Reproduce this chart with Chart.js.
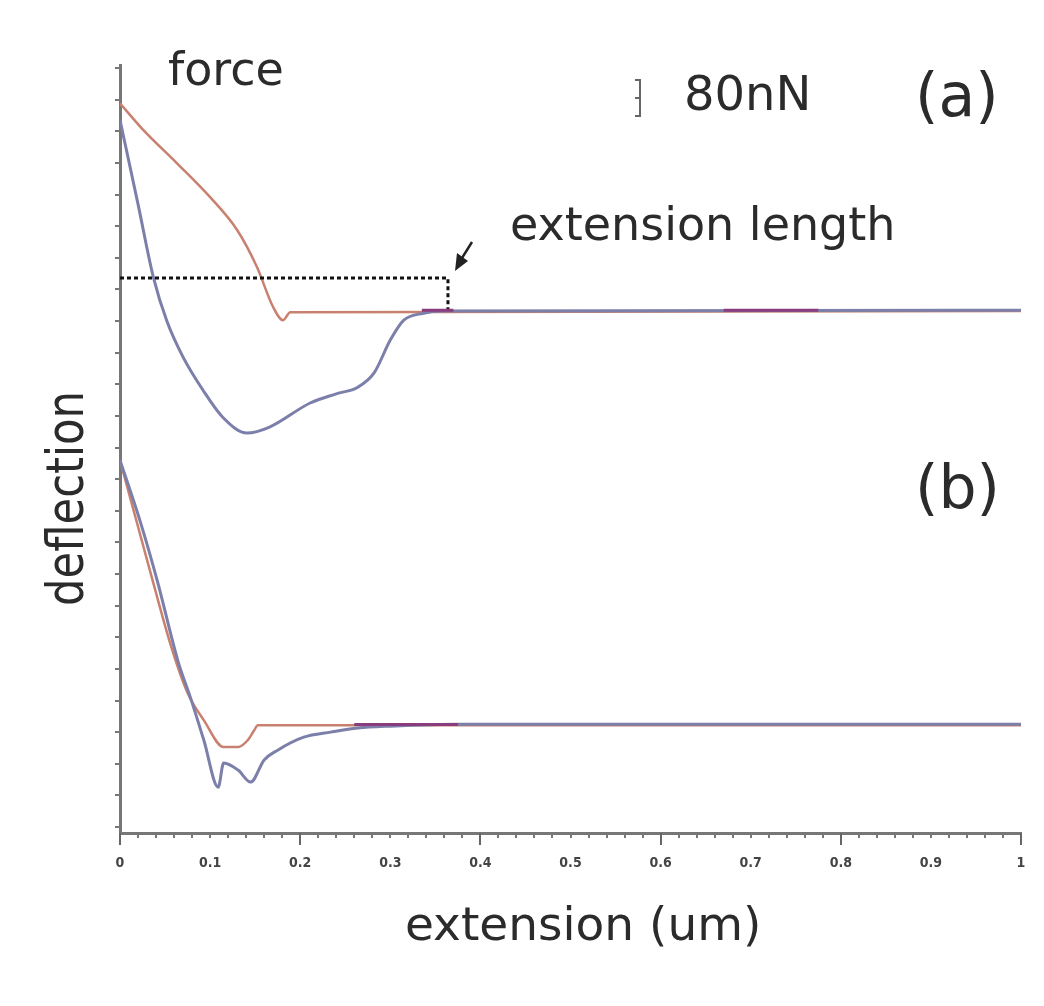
<!DOCTYPE html>
<html>
<head>
<meta charset="utf-8">
<script src="https://cdn.jsdelivr.net/npm/chart.js@4/dist/chart.umd.min.js"></script>
<style>
  html, body { margin: 0; padding: 0; background: #fff; }
  canvas { display: block; }
</style>
</head>
<body>
<canvas id="forceCurve" width="1044" height="1006"></canvas>
<script>
  // x tick labels (um)
  const xTickLabels = ["0", "0.1", "0.2", "0.3", "0.4", "0.5", "0.6", "0.7", "0.8", "0.9", "1"];

  // (a) approach (red) and retract (blue), deflection in tick units
  const aRedX = [0, 0.026, 0.063, 0.1, 0.13, 0.152, 0.17, 0.181, 0.189, 1];
  const aRedY = [22.89, 22.04, 21.0, 19.92, 18.88, 17.71, 16.44, 16.03, 16.28, 16.32];
  const aBlueX = [0, 0.02, 0.037, 0.052, 0.07, 0.092, 0.114, 0.141, 0.166, 0.211, 0.24, 0.264, 0.282, 0.3, 0.315, 0.337, 0.356, 1];
  const aBlueY = [22.36, 19.7, 17.39, 16.0, 14.86, 13.82, 12.96, 12.46, 12.65, 13.41, 13.7, 13.91, 14.36, 15.4, 16.03, 16.25, 16.32, 16.34];

  // (b) approach (red) and retract (blue)
  const bRedX = [0, 0.012, 0.034, 0.057, 0.075, 0.093, 0.115, 0.131, 0.142, 0.149, 0.153, 1];
  const bRedY = [11.6, 10.34, 8.03, 5.69, 4.24, 3.38, 2.53, 2.53, 2.75, 3.06, 3.22, 3.22];
  const bBlueX = [0, 0.023, 0.042, 0.064, 0.079, 0.093, 0.109, 0.115, 0.131, 0.145, 0.16, 0.175, 0.204, 0.234, 0.264, 0.3, 0.378, 1];
  const bBlueY = [11.6, 9.61, 7.72, 5.28, 4.02, 2.75, 1.26, 2.02, 1.8, 1.42, 2.12, 2.43, 2.84, 3.0, 3.13, 3.19, 3.25, 3.25];

  // where the two curves overlap (drawn purple)
  const overlapAX = [0.335, 0.37, 0.371, 0.67, 0.775];
  const overlapAY = [16.34, 16.34, null, 16.34, 16.34];
  const overlapBX = [0.26, 0.375];
  const overlapBY = [3.24, 3.24];

  // extension length marker
  const extX = [0, 0.364, 0.364];
  const extY = [17.36, 17.36, 16.34];

  const pts = (xs, ys) => xs.map((x, i) => ({ x: x, y: ys[i] }));

  const RED = "#c8806f";
  const BLUE = "#7b7fa9";
  const PURPLE = "#8a3d7e";
  const TEXT = "#2b2b2b";
  const FONT = "'DejaVu Sans', Verdana, sans-serif";

  const annotations = {
    id: "annotations",
    afterDraw(chart) {
      const ctx = chart.ctx;
      const xs = chart.scales.x;
      const area = chart.chartArea;
      ctx.save();

      // longer major ticks every 0.2
      ctx.strokeStyle = "#666";
      ctx.lineWidth = 2;
      for (let i = 0; i <= 10; i += 2) {
        const px = Math.round(xs.getPixelForValue(i / 10));
        ctx.beginPath();
        ctx.moveTo(px, area.bottom);
        ctx.lineTo(px, area.bottom + 12);
        ctx.stroke();
      }

      ctx.fillStyle = TEXT;
      ctx.textBaseline = "alphabetic";
      ctx.textAlign = "left";

      ctx.font = "46px " + FONT;
      ctx.fillText("force", 168, 85);
      ctx.fillText("extension length", 510, 240);

      ctx.font = "48px " + FONT;
      ctx.fillText("80nN", 684, 110);

      ctx.font = "60px " + FONT;
      ctx.fillText("(a)", 915, 116);
      ctx.fillText("(b)", 915, 508);

      ctx.font = "47px " + FONT;
      ctx.fillText("extension (um)", 405, 940);

      // y title, rotated and slightly condensed
      ctx.save();
      ctx.translate(83, 606);
      ctx.rotate(-Math.PI / 2);
      ctx.scale(0.85, 1);
      ctx.font = "51px " + FONT;
      ctx.fillText("deflection", 0, 0);
      ctx.restore();

      // 80nN scale bar
      ctx.strokeStyle = "#666";
      ctx.lineWidth = 2;
      ctx.beginPath();
      ctx.moveTo(640, 79);
      ctx.lineTo(640, 117);
      [80, 98, 116].forEach((y) => {
        ctx.moveTo(635, y);
        ctx.lineTo(641, y);
      });
      ctx.stroke();

      // arrow pointing at the end of the extension marker
      ctx.strokeStyle = "#222";
      ctx.fillStyle = "#222";
      ctx.lineWidth = 2.5;
      ctx.beginPath();
      ctx.moveTo(472, 242);
      ctx.lineTo(462, 258);
      ctx.stroke();
      ctx.beginPath();
      ctx.moveTo(455, 271);
      ctx.lineTo(457, 253);
      ctx.lineTo(468, 261);
      ctx.closePath();
      ctx.fill();

      ctx.restore();
    },
  };

  const line = (data, color, width, order, smooth) => ({
    data: data,
    borderColor: color,
    borderWidth: width,
    fill: false,
    tension: smooth ? 0.4 : 0,
    cubicInterpolationMode: smooth ? "monotone" : "default",
    pointRadius: 0,
    spanGaps: false,
    order: order,
  });

  new Chart(document.getElementById("forceCurve").getContext("2d"), {
    type: "line",
    data: {
      datasets: [
        line(pts(overlapAX, overlapAY), PURPLE, 3, 0, false),
        line(pts(overlapBX, overlapBY), PURPLE, 3, 0, false),
        Object.assign(line(pts(extX, extY), "#111", 3, 0, false), { borderDash: [4, 3] }),
        line(pts(aBlueX, aBlueY), BLUE, 3, 1, true),
        line(pts(bBlueX, bBlueY), BLUE, 3, 1, true),
        line(pts(aRedX, aRedY), RED, 2.5, 2, true),
        line(pts(bRedX, bRedY), RED, 2.5, 2, true),
      ],
    },
    options: {
      responsive: false,
      animation: false,
      layout: { padding: { top: 65, right: 23, left: 0, bottom: 0 } },
      plugins: {
        legend: { display: false },
        tooltip: { enabled: false },
      },
      scales: {
        x: {
          type: "linear",
          min: 0,
          max: 1,
          afterBuildTicks: (scale) => {
            scale.ticks = Array.from({ length: 51 }, (_, i) => ({ value: i / 50 }));
          },
          afterFit: (scale) => {
            scale.height = 173;
          },
          ticks: {
            autoSkip: false,
            maxRotation: 0,
            padding: 17,
            color: "#444",
            font: { family: "'Liberation Sans Narrow', 'DejaVu Sans Condensed', sans-serif", size: 14, weight: "bold" },
            callback: (v) => {
              const k = Math.round(v * 50);
              return k % 5 === 0 ? xTickLabels[k / 5] : "";
            },
          },
          grid: { drawOnChartArea: false, drawTicks: true, tickLength: 5, color: "#777", lineWidth: 2 },
          border: { display: true, color: "#777", width: 3 },
        },
        y: {
          type: "linear",
          min: -0.19,
          max: 24.1,
          afterBuildTicks: (scale) => {
            scale.ticks = Array.from({ length: 25 }, (_, i) => ({ value: i }));
          },
          afterFit: (scale) => {
            scale.width = 120;
          },
          ticks: { display: false },
          grid: { drawOnChartArea: false, drawTicks: true, tickLength: 5, color: "#777", lineWidth: 2 },
          border: { display: true, color: "#777", width: 3 },
        },
      },
    },
    plugins: [annotations],
  });
</script>
</body>
</html>
